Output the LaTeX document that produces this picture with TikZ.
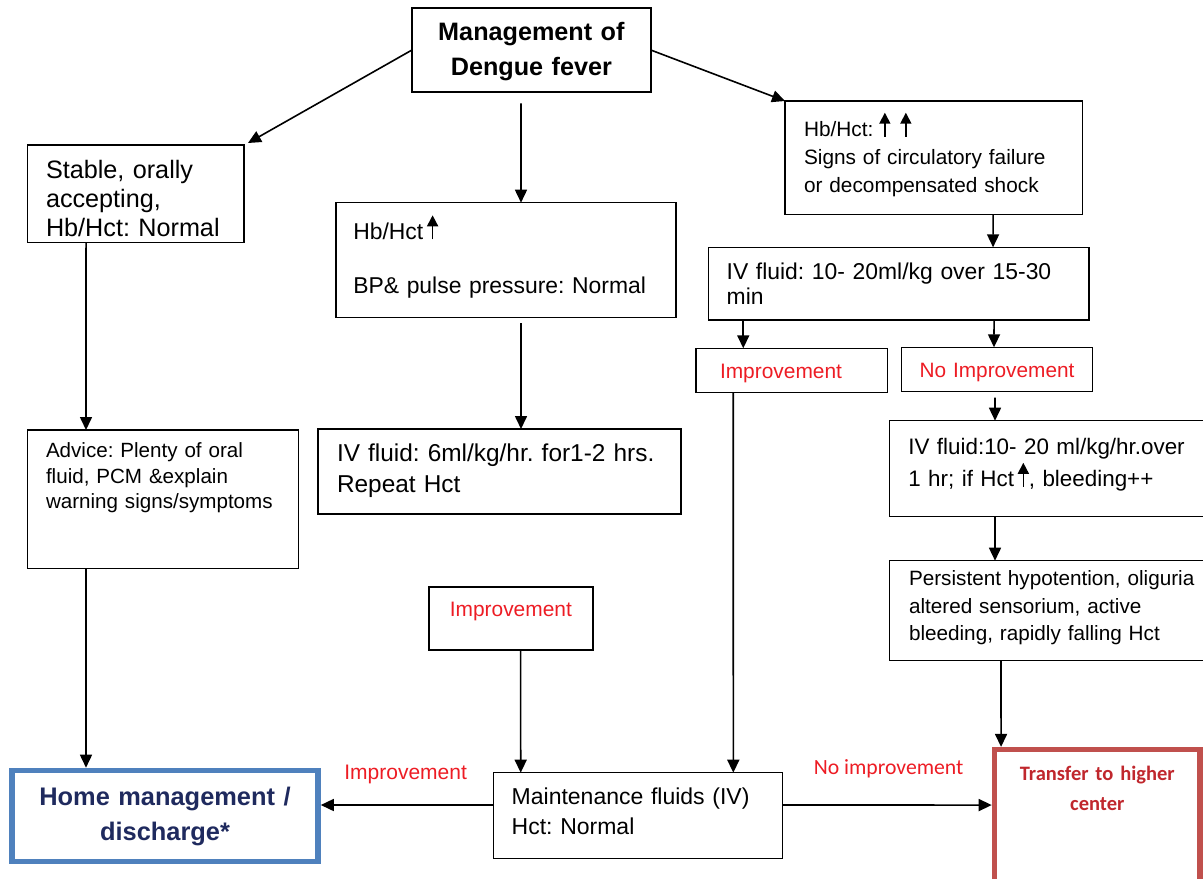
\documentclass[tikz,border=0pt]{standalone}
\usepackage{fontspec}
\setmainfont{Liberation Sans}
\newfontfamily\calibri{Carlito}
\usetikzlibrary{arrows.meta}
\frenchspacing

\definecolor{labred}{RGB}{237,28,36}
\definecolor{homeblue}{RGB}{79,129,189}
\definecolor{homenavy}{RGB}{31,42,94}
\definecolor{transred}{RGB}{192,80,77}
\definecolor{transtext}{RGB}{192,39,45}

\newcommand{\hctup}{\tikz[baseline=0pt]\draw[line width=0.8pt,-{Triangle[length=5.5pt,width=5.5pt]}] (0pt,0pt) -- (0pt,12pt);}

\tikzset{
  flow/.style={draw, line width=0.75pt, anchor=north west, align=left, inner ysep=0pt, outer sep=0pt},
  arr/.style={line width=0.8pt, -{Triangle[length=6.5pt,width=6pt]}},
  lbl/.style={text=labred},
}

\begin{document}
\begin{tikzpicture}[x=0.5pt, y=-0.5pt]
\useasboundingbox (0,0) rectangle (1203,878);

\node[flow, line width=1pt, align=center, minimum width=119.35pt, text width=111.35pt, inner xsep=4pt,
  text height=16.2pt, text depth=25.5pt, font=\fontsize{12.6}{17.2}\selectfont\bfseries] (mgmt) at (412,8.3) {Management of\\Dengue fever};
\node[flow, minimum width=108.35pt, text width=89.65pt, inner xsep=9.35pt, text height=16.65pt, text depth=32pt,
  font=\fontsize{12.6}{14.6}\selectfont] (stable) at (27.3,145) {Stable, orally\\accepting,\\Hb/Hct: Normal};
\node[flow, minimum width=170pt, text width=152.7pt, inner xsep=8.65pt, text height=18.3pt, text depth=39pt,
  font=\fontsize{11.45}{13.75}\selectfont] (hbmid) at (336,202.7) {Hb/Hct\,\hctup\\[13.25pt]BP\& pulse pressure: Normal};
\node[flow, minimum width=148.85pt, text width=129.85pt, inner xsep=9.5pt, text height=17.85pt, text depth=38.8pt,
  font=\fontsize{10.4}{14}\selectfont] (hbhi) at (785,101) {Hb/Hct:\hspace{3pt}\hctup\hspace{5pt}\hctup\\Signs of circulatory failure\\or decompensated shock};
\node[flow, minimum width=190.35pt, text width=171.95pt, inner xsep=9.2pt, text height=16pt, text depth=20.35pt,
  font=\fontsize{11.45}{12.35}\selectfont] (iv1) at (708.3,247.3) {IV fluid: 10- 20ml/kg over 15-30\\min};
\node[flow, lbl, minimum width=95.65pt, text width=71.65pt, inner xsep=12pt, text height=15pt, text depth=7.2pt,
  font=\fontsize{10.45}{12}\selectfont] (impR) at (696,348.3) {Improvement};
\node[flow, lbl, align=center, minimum width=95.3pt, text width=87.3pt, inner xsep=4pt, text height=15pt, text depth=7.2pt,
  font=\fontsize{10.4}{12}\selectfont] (noimp) at (901.7,347.3) {No Improvement};
\node[flow, minimum width=170pt, text width=151pt, inner xsep=9.5pt, text height=16.8pt, text depth=31.2pt,
  font=\fontsize{11.2}{13}\selectfont] (iv2) at (889.3,420.7) {IV fluid:10- 20 ml/kg/hr.over\\[0.5pt]1 hr; if Hct\,\hctup, bleeding++};
\node[flow, minimum width=170pt, text width=150.3pt, inner xsep=9.85pt, text height=12.5pt, text depth=37.5pt,
  font=\fontsize{10.35}{13.75}\selectfont] (persist) at (889.3,560.7) {Persistent hypotention, oliguria\\altered sensorium, active\\bleeding, rapidly falling Hct};
\node[flow, minimum width=135.5pt, text width=116.8pt, inner xsep=9.35pt, text height=13.85pt, text depth=55.3pt,
  font=\fontsize{10.3}{12.65}\selectfont] (advice) at (27.3,430) {Advice: Plenty of oral\\fluid, PCM \&explain\\warning signs/symptoms};
\node[flow, minimum width=181.5pt, text width=162.5pt, inner xsep=9.5pt, text height=16pt, text depth=26.5pt,
  font=\fontsize{12.2}{15.5}\selectfont] (iv6) at (318,429) {IV fluid: 6ml/kg/hr. for1-2 hrs.\\Repeat Hct};
\node[flow, lbl, line width=1pt, align=center, minimum width=81.85pt, text width=75.85pt, inner xsep=3pt, text height=14.65pt, text depth=17pt,
  font=\fontsize{10.45}{12}\selectfont] (impC) at (429,586.7) {Improvement};
\node[flow, draw=homeblue, text=homenavy, line width=2.75pt, align=center, minimum width=153pt, text width=145pt, inner xsep=4pt,
  text height=17.25pt, text depth=28.35pt, font=\fontsize{12.7}{17.5}\selectfont\bfseries] (home) at (12,770.5) {Home management /\\discharge*};
\node[flow, minimum width=144.7pt, text width=126.3pt, inner xsep=9.2pt, text height=15.65pt, text depth=27.15pt,
  font=\fontsize{11.5}{15}\selectfont] (maint) at (493.3,772.7) {Maintenance fluids (IV)\\Hct: Normal};
\node[flow, draw=transred, text=transtext, line width=2.75pt, align=center, minimum width=102.75pt, text width=96.75pt, inner xsep=3pt,
  text height=15.5pt, text depth=59.65pt, font=\calibri\bfseries\fontsize{10.25}{14.65}\selectfont] (transfer) at (994.5,749.7) {Transfer to higher\\center};

\draw[arr] (mgmt.west) -- ([xshift=2pt,yshift=1pt]stable.north east);
\draw[arr] ([xshift=-5.2pt,yshift=-5.8pt]mgmt.south) -- ([xshift=7.5pt]hbmid.north);
\draw[arr] (mgmt.east) -- (hbhi.north west);
\draw[arr] ([xshift=-24.8pt]stable.south) -- ([xshift=-38.4pt]advice.north);
\draw[arr, shorten >=1.4pt] ([xshift=-38.4pt]advice.south) -- ([xshift=-39.5pt]home.north);
\draw[arr] ([xshift=7.5pt,yshift=-3pt]hbmid.south) -- ([xshift=10.75pt]iv6.north);
\draw[arr] ([xshift=4.9pt]impC.south) -- ([xshift=-58.65pt]maint.north);
\draw[arr] ([xshift=-29.2pt]impR.south) -- ([xshift=47.65pt]maint.north);
\draw[arr] ([xshift=29.6pt]hbhi.south) -- ([xshift=47.2pt]iv1.north);
\draw[arr] ([xshift=-77.7pt]iv1.south) -- ([xshift=-24.2pt]impR.north);
\draw[arr] ([xshift=47.7pt]iv1.south) -- ([xshift=-1.5pt]noimp.north);
\draw[arr] ([xshift=-1pt,yshift=-3pt]noimp.south) -- ([xshift=-32.15pt]iv2.north);
\draw[arr] ([xshift=-32.15pt]iv2.south) -- ([xshift=-32.15pt]persist.north);
\draw[arr, shorten >=1.4pt] ([xshift=-29.15pt]persist.south) -- ([xshift=-48.1pt]transfer.north);
\draw[arr, shorten >=1.4pt] ([yshift=5.25pt]maint.west) -- node[lbl, above=7pt, font=\fontsize{10.5}{12}\selectfont] {Improvement} ([yshift=5.55pt]home.east);
\draw[arr, shorten >=1.4pt] ([yshift=5.25pt]maint.east) -- node[lbl, above=9.8pt, font=\calibri\fontsize{10.85}{12}\selectfont] {No improvement} ([yshift=9.9pt]transfer.west);
\end{tikzpicture}
\end{document}
